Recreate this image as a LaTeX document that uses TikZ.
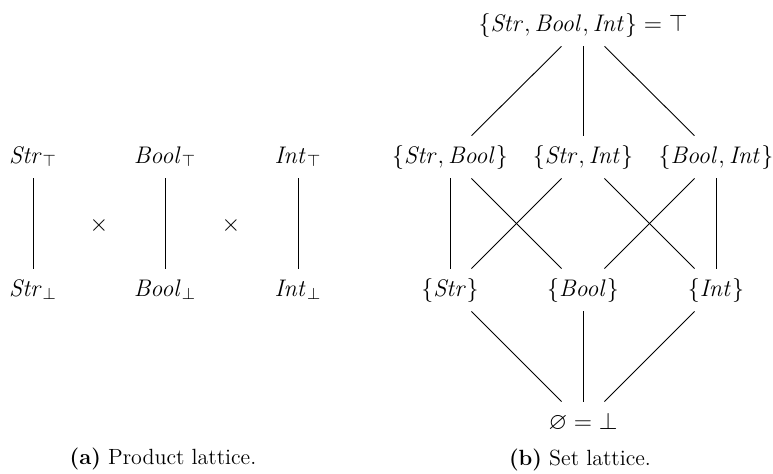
\documentclass[tikz,border=0pt]{standalone}
\usepackage{amssymb}
\begin{document}
\begin{tikzpicture}[x=0.5pt, y=-0.5pt,
  every node/.style={font=\fontsize{12}{14}\selectfont},
  lat/.style={inner xsep=1pt, inner ysep=3.5pt, text height=10pt, text depth=4pt},
  link/.style={line width=0.45pt, black},
  captext/.style={font=\fontsize{11}{13}\selectfont, inner sep=0pt}]
\useasboundingbox (0,0) rectangle (773,473);

% (a) product of three two-element chains
\node[lat] (st) at (33,157) {$\mathit{Str}_\top$};
\node[lat] (sb) at (33,290) {$\mathit{Str}_\bot$};
\node[lat] (bt) at (165,157) {$\mathit{Bool}_\top$};
\node[lat] (bb) at (165,290) {$\mathit{Bool}_\bot$};
\node[lat] (it) at (298,157) {$\mathit{Int}_\top$};
\node[lat] (ib) at (298,290) {$\mathit{Int}_\bot$};
\node (x1) at (99,225) {$\times$};
\node (x2) at (231,225) {$\times$};
\draw[link] (st) -- (sb);
\draw[link] (bt) -- (bb);
\draw[link] (it) -- (ib);
\node[captext] (capa) at (163,459) {\textbf{(a)} Product lattice.};

% (b) powerset lattice of {Str, Bool, Int}
\node[lat] (top) at (583,25) {$\{\mathit{Str},\mathit{Bool},\mathit{Int}\}=\top$};
\node[lat] (sbo) at (450,157) {$\{\mathit{Str},\mathit{Bool}\}$};
\node[lat] (sin) at (583,157) {$\{\mathit{Str},\mathit{Int}\}$};
\node[lat] (bin) at (716,157) {$\{\mathit{Bool},\mathit{Int}\}$};
\node[lat] (s) at (450,290) {$\{\mathit{Str}\}$};
\node[lat] (b) at (583,290) {$\{\mathit{Bool}\}$};
\node[lat] (i) at (716,290) {$\{\mathit{Int}\}$};
\node[lat] (bot) at (583,423) {$\varnothing=\bot$};
\draw[link] (top) -- (sbo);
\draw[link] (top) -- (sin);
\draw[link] (top) -- (bin);
\draw[link] (sbo) -- (s);
\draw[link] (sbo) -- (b);
\draw[link] (sin) -- (s);
\draw[link] (sin) -- (i);
\draw[link] (bin) -- (b);
\draw[link] (bin) -- (i);
\draw[link] (s) -- (bot);
\draw[link] (b) -- (bot);
\draw[link] (i) -- (bot);
\node[captext] (capb) at (580,460) {\textbf{(b)} Set lattice.};
\end{tikzpicture}
\end{document}
